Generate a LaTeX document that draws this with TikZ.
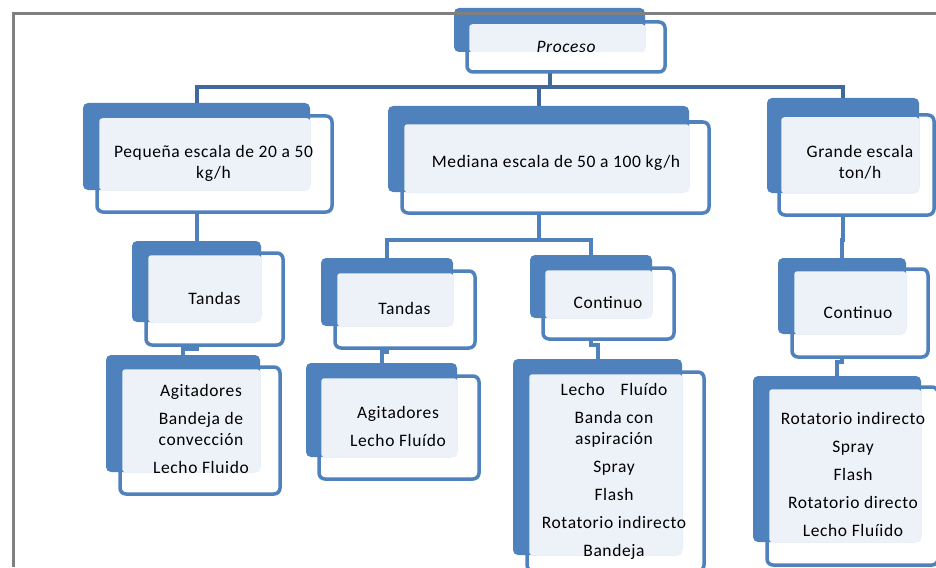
\documentclass[tikz,border=0pt]{standalone}
\usepackage{fontspec}
\setmainfont{Carlito}[LetterSpace=3.5]
\usetikzlibrary{fit,calc}
\pgfdeclarelayer{bg}
\pgfsetlayers{bg,main}
\definecolor{ofblue}{HTML}{4F81BD}
\definecolor{darkconn}{HTML}{41699C}
\definecolor{lightc}{HTML}{EDF1F8}
\definecolor{framegray}{HTML}{808080}
\tikzset{
 backbox/.style={fill=ofblue, draw=none, rounded corners=5pt, inner sep=0pt},
 frontbox/.style={fill=white, draw=ofblue, line width=3.5pt, rounded corners=6pt, inner sep=0pt},
 lightarea/.style={fill=lightc, rounded corners=3pt},
 conn/.style={draw=ofblue, line width=4pt},
 topconn/.style={draw=darkconn, line width=4pt},
 lbl/.style={font=\fontsize{17.5}{21}\selectfont, align=center, inner sep=0pt, text=black},
}
\newcommand\mybox[9]{%
  \node[frontbox, fit={(#6,#7) (#8,#9)}] (#1F) {};
  \node[backbox, fit={(#2,#3) (#4,#5)}] (#1B) {};
  \path[lightarea] ($(#1F.north west)+(4,4)$) rectangle (#1B.south east);
}
\begin{document}
\begin{tikzpicture}[x=1pt,y=-1pt]
\useasboundingbox (0,0) rectangle (936,567);
\clip (0,0) rectangle (936,567);

\mybox{proc}{454}{8}{645}{52}{467}{22}{665}{72}
\mybox{peq}{83}{103}{310}{190}{97}{116}{332}{212}
\mybox{med}{388}{106}{689}{192}{402}{122}{709}{213}
\mybox{gra}{767}{98}{919}{193}{779}{115}{934}{215}
\mybox{ta}{132}{241}{261}{322}{146}{253}{283}{345}
\mybox{aa}{106}{355}{260}{472}{120}{367}{280}{494}
\mybox{tb}{321}{258}{453}{326}{335}{271}{475}{348}
\mybox{ab}{306}{363}{457}{457}{319}{376}{479}{479}
\mybox{ca}{530}{255}{652}{318}{543}{268}{674}{339}
\mybox{la}{513}{359}{682}{555}{527}{372}{704}{571}
\mybox{cb}{778}{258}{906}{334}{792}{269}{928}{357}
\mybox{lb}{753}{376}{921}{542}{767}{387}{938}{565}

\coordinate (bus1) at (0,87);
\coordinate (bus2) at (0,240);
\coordinate (bus3) at (0,349);
\coordinate (bus4) at (0,352);
\coordinate (bus5) at (0,345);
\coordinate (bus6) at (0,362);

\begin{pgfonlayer}{bg}
\fill[white] (0,0) rectangle (936,567);
\draw[topconn] (procB.center) -- (procB.center |- bus1) -| (peqB.north);
\draw[topconn] (procB.center |- bus1) -| (medB.north);
\draw[topconn] (procB.center |- bus1) -| (graB.north);
\draw[conn] (peqB.center) -- (peqB.center |- taB.north);
\draw[conn] (medB.center) -- (medB.center |- bus2) -| (tbB.north);
\draw[conn] (medB.center |- bus2) -| (caB.north);
\draw[conn] (graB.center) -- (graB.center |- bus2) -| (cbB.north);
\draw[conn] (taB.center) -- (taB.center |- bus3) -| (aaB.north);
\draw[conn] (tbB.center) -- (tbB.center |- bus4) -| (abB.north);
\draw[conn] (caB.center) -- (caB.center |- bus5) -| (laB.north);
\draw[conn] (cbB.center) -- (cbB.center |- bus6) -| (lbB.north);
\end{pgfonlayer}

\node[lbl, font=\fontsize{17.5}{21}\selectfont\itshape] (procT) at (566,47) {Proceso};
\node[lbl] (peqT) at (213.5,163.5) {Pequeña escala de 20 a 50\\kg/h};
\node[lbl] (medT) at (556,163) {Mediana escala de 50 a 100 kg/h};
\node[lbl] (graT) at (860,162) {Grande escala\\ton/h};
\node[lbl] (taT) at (214.5,298) {Tandas};
\node[lbl] (tbT) at (404.5,308) {Tandas};
\node[lbl] (caT) at (608,303) {Continuo};
\node[lbl] (cbT) at (858,313) {Continuo};
\node[lbl] (aaT) at (201,429) {Agitadores\\[7pt]Bandeja de\\convección\\[7pt]Lecho Fluido};
\node[lbl] (abT) at (398,426) {Agitadores\\[7pt]Lecho Fluído};
\node[lbl] (laT) at (614,471.5) {Lecho\hspace{0.9em}Fluído\\[7pt]Banda con\\aspiración\\[7pt]Spray\\[7pt]Flash\\[7pt]Rotatorio indirecto\\[7pt]Bandeja};
\node[lbl] (lbT) at (853,474) {Rotatorio indirecto\\[7pt]Spray\\[7pt]Flash\\[7pt]Rotatorio directo\\[7pt]Lecho Fluíido};

\draw[framegray, line width=3pt] (13.5,567) -- (13.5,14) -- (936,14);
\end{tikzpicture}
\end{document}
